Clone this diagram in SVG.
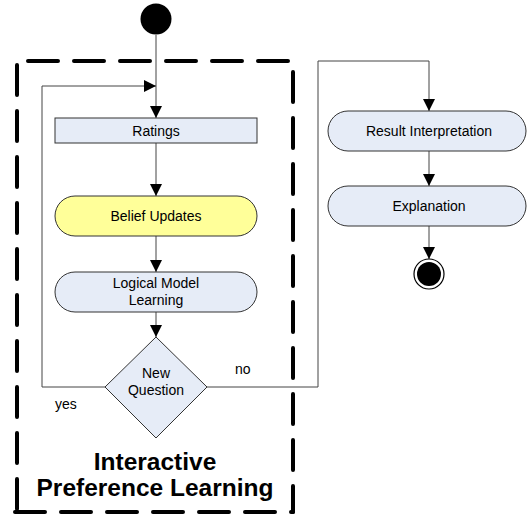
<svg xmlns="http://www.w3.org/2000/svg" width="527" height="515" viewBox="0 0 527 515">
<defs>
<marker id="arr" viewBox="0 0 12 12" refX="12" refY="6" markerWidth="12" markerHeight="12" markerUnits="userSpaceOnUse" orient="auto">
<path d="M0,0 L12,6 L0,12 Z" fill="#000"/>
</marker>
</defs>
<style>
.node{fill:#e6ecf7;stroke:#333;stroke-width:1}
.yel{fill:#ffff99;stroke:#333;stroke-width:1}
.t{font-family:"Liberation Sans",Arial,sans-serif;font-size:14px;fill:#000;text-anchor:middle}
.lbl{font-family:"Liberation Sans",Arial,sans-serif;font-size:14px;fill:#000}
.title{font-family:"Liberation Sans",Arial,sans-serif;font-size:24.5px;font-weight:bold;fill:#000;text-anchor:middle}
.c{fill:none;stroke:#444;stroke-width:1}
.dash{fill:none;stroke:#000;stroke-width:4;stroke-dasharray:30 16;stroke-linecap:round}
</style>
<g id="group-box">
<line class="dash" x1="17" y1="61" x2="293" y2="61" stroke-dashoffset="35"/>
<line class="dash" x1="17" y1="61" x2="17" y2="512" stroke-dashoffset="42"/>
<line class="dash" x1="293" y1="61" x2="293" y2="512" stroke-dashoffset="35"/>
<line class="dash" x1="15" y1="512" x2="293" y2="512" stroke-dashoffset="0"/>
<text class="title" x="155" y="470">Interactive</text>
<text class="title" x="155" y="496">Preference Learning</text>
</g>
<g id="connectors">
<line class="c" x1="156" y1="35" x2="156" y2="118" marker-end="url(#arr)"/>
<line class="c" x1="156" y1="143" x2="156" y2="196" marker-end="url(#arr)"/>
<line class="c" x1="156" y1="236" x2="156" y2="272" marker-end="url(#arr)"/>
<line class="c" x1="156" y1="312" x2="156" y2="337" marker-end="url(#arr)"/>
<polyline class="c" points="105,387 42,387 42,86 156,86" marker-end="url(#arr)"/>
<polyline class="c" points="207,387 318,387 318,61 429,61 429,111" marker-end="url(#arr)"/>
<line class="c" x1="429" y1="151" x2="429" y2="186" marker-end="url(#arr)"/>
<line class="c" x1="429" y1="226" x2="429" y2="259" marker-end="url(#arr)"/>
<text class="lbl" x="55" y="409">yes</text>
<text class="lbl" x="235" y="374">no</text>
</g>
<g id="start">
<circle cx="156" cy="19" r="15.5" fill="#000"/>
</g>
<g id="ratings">
<rect class="node" x="55" y="118" width="202" height="25"/>
<text class="t" x="156" y="135.5">Ratings</text>
</g>
<g id="belief-updates">
<rect class="yel" x="55" y="196" width="202" height="40" rx="20" ry="20"/>
<text class="t" x="156" y="221">Belief Updates</text>
</g>
<g id="logical-model-learning">
<rect class="node" x="55" y="272" width="202" height="40" rx="20" ry="20"/>
<text class="t" x="156" y="288">Logical Model</text>
<text class="t" x="156" y="305">Learning</text>
</g>
<g id="new-question">
<polygon class="node" points="156,337 207,387 156,438 105,387"/>
<text class="t" x="156" y="378">New</text>
<text class="t" x="156" y="395">Question</text>
</g>
<g id="result-interpretation">
<rect class="node" x="328" y="111" width="198" height="40" rx="20" ry="20"/>
<text class="t" x="429" y="136">Result Interpretation</text>
</g>
<g id="explanation">
<rect class="node" x="328" y="186" width="198" height="40" rx="20" ry="20"/>
<text class="t" x="429" y="211">Explanation</text>
</g>
<g id="end">
<circle cx="429" cy="274" r="15" fill="#fff" stroke="#000" stroke-width="1.2"/>
<circle cx="429" cy="274" r="12" fill="#000"/>
</g>
</svg>
